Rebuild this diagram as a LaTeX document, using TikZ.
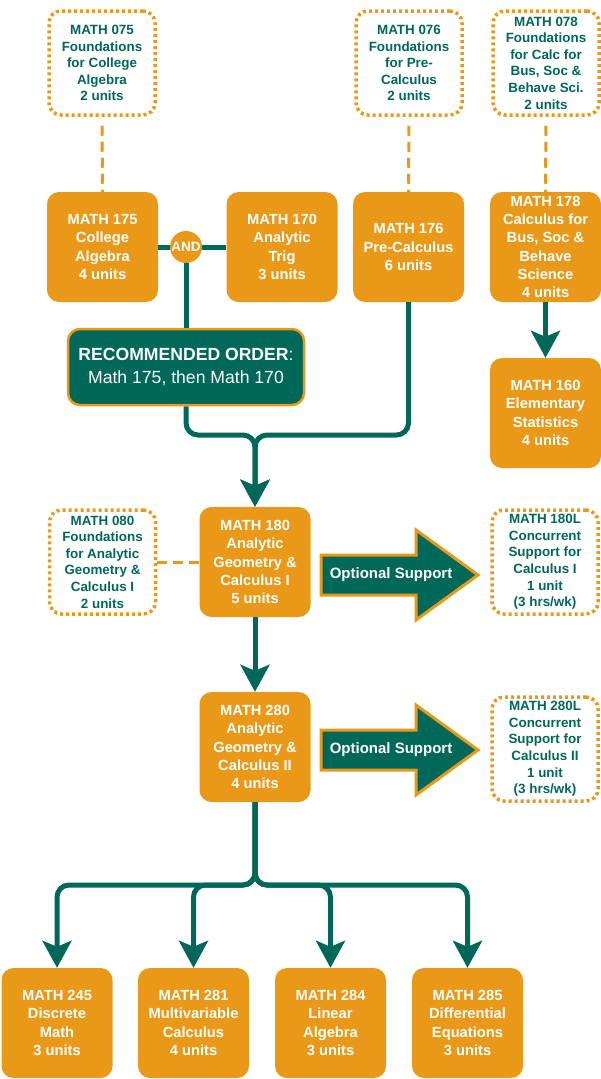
\documentclass[tikz,border=0pt]{standalone}
\usepackage{fontspec}
\setmainfont{Liberation Sans}
\usetikzlibrary{arrows.meta}
\definecolor{orng}{RGB}{234,152,23}
\definecolor{tealc}{RGB}{0,104,89}
\begin{document}
\begin{tikzpicture}[x=1pt,y=-1pt,
  obox/.style={fill=orng, rounded corners=12pt, text=white, font=\bfseries\fontsize{14.7}{18.3}\selectfont, align=center, inner sep=0pt, minimum width=111pt, minimum height=110pt},
  dbox/.style={draw=orng, line width=3.5pt, dash pattern=on 3pt off 3pt, rounded corners=12pt, fill=white, text=tealc, font=\bfseries\fontsize{13.4}{16.6}\selectfont, align=center, inner sep=0pt, minimum width=106pt, minimum height=104pt},
  conn/.style={draw=tealc, line width=5pt, rounded corners=12pt},
  big/.style={-{Stealth[width=29pt,length=27pt,inset=6pt]}},
  dconn/.style={draw=orng, line width=3pt, dash pattern=on 10pt off 6pt},
  optarrow/.style={fill=tealc, draw=orng, line width=3pt, line join=miter},
  opttext/.style={text=white, font=\bfseries\fontsize{15}{15}\selectfont, inner sep=0pt},
]
\useasboundingbox (0,0) rectangle (601,1079);

% top row: foundations
\node[dbox] (d075) at (102,63) {MATH 075\\Foundations\\for College\\Algebra\\2 units};
\node[dbox] (d076) at (409,63) {MATH 076\\Foundations\\for Pre-\\Calculus\\2 units};
\node[dbox] (d078) at (546,63) {MATH 078\\Foundations\\for Calc for\\Bus, Soc \&\\Behave Sci.\\2 units};

% second row
\node[obox] (o175) at (102.5,247) {MATH 175\\College\\Algebra\\4 units};
\node[obox] (o170) at (282,247) {MATH 170\\Analytic\\Trig\\3 units};
\node[obox] (o176) at (408.5,247) {MATH 176\\Pre-Calculus\\6 units};
\node[obox] (o178) at (545.5,247) {MATH 178\\Calculus for\\Bus, Soc \&\\Behave\\Science\\4 units};
\node[obox] (o160) at (545.5,413) {MATH 160\\Elementary\\Statistics\\4 units};

\node[circle, fill=orng, minimum size=32pt, inner sep=0pt, text=white, font=\bfseries\fontsize{13.5}{13.5}\selectfont] (and) at (186,247) {AND};

\node[fill=tealc, draw=orng, line width=2.5pt, rounded corners=12pt, minimum width=236pt, minimum height=76pt, text=white, align=center, font=\fontsize{17.6}{23}\selectfont, inner sep=0pt] (rec) at (186,367) {\raisebox{-2pt}{\textbf{RECOMMENDED ORDER}:}\\\raisebox{-2pt}{Math 175, then Math 170}};

% middle
\node[obox] (o180) at (255,562) {MATH 180\\Analytic\\Geometry \&\\Calculus I\\5 units};
\node[obox] (o280) at (255,747) {MATH 280\\Analytic\\Geometry \&\\Calculus II\\4 units};
\node[dbox] (d080) at (102.5,562) {MATH 080\\Foundations\\for Analytic\\Geometry \&\\Calculus I\\2 units};
\node[dbox] (d180L) at (545,562) {MATH 180L\\Concurrent\\Support for\\Calculus I\\1 unit\\(3 hrs/wk)};
\node[dbox] (d280L) at (545,749) {MATH 280L\\Concurrent\\Support for\\Calculus II\\1 unit\\(3 hrs/wk)};

% bottom row
\node[obox] (b245) at (57,1023) {MATH 245\\Discrete\\Math\\3 units};
\node[obox] (b281) at (193.5,1023) {MATH 281\\Multivariable\\Calculus\\4 units};
\node[obox] (b284) at (330.5,1023) {MATH 284\\Linear\\Algebra\\3 units};
\node[obox] (b285) at (467.5,1023) {MATH 285\\Differential\\Equations\\3 units};

% optional support arrows
\path[optarrow] (321,555) -- (416,555) -- (416,530) -- (478,575) -- (416,620) -- (416,595) -- (321,595) -- cycle;
\node[opttext] (opt1) at (391,575) {Optional Support};
\path[optarrow] (321,730) -- (416,730) -- (416,705) -- (478,750) -- (416,795) -- (416,770) -- (321,770) -- cycle;
\node[opttext] (opt2) at (391,750) {Optional Support};

% dashed connectors
\draw[dconn, shorten <=9pt] (d075.south) -- (o175.north);
\draw[dconn, shorten <=9pt] (d076.south) -- (o176.north);
\draw[dconn, shorten <=9pt] (d078.south) -- (o178.north);
\draw[dconn] (d080.east) -- (o180.west);

% solid connectors
\draw[conn] (o175.east) -- (and.west);
\draw[conn] (and.east) -- (o170.west);
\draw[conn] (and.south) -- (rec.north);
\coordinate (m1) at (255,435);
\draw[conn, big] (rec.south) -- (rec.south |- m1) -- (m1) -- (o180.north);
\draw[conn, big] (o176.south) -- (o176.south |- m1) -- (m1) -- (o180.north);
\draw[conn, big] (o178.south) -- (o160.north);
\draw[conn, big] (o180.south) -- (o280.north);
\coordinate (m2) at (255,885);
\draw[conn, big] (o280.south) -- (m2) -- (m2 -| b245.north) -- (b245.north);
\draw[conn, big] (o280.south) -- (m2) -- (m2 -| b281.north) -- (b281.north);
\draw[conn, big] (o280.south) -- (m2) -- (m2 -| b284.north) -- (b284.north);
\draw[conn, big] (o280.south) -- (m2) -- (m2 -| b285.north) -- (b285.north);
\end{tikzpicture}
\end{document}
